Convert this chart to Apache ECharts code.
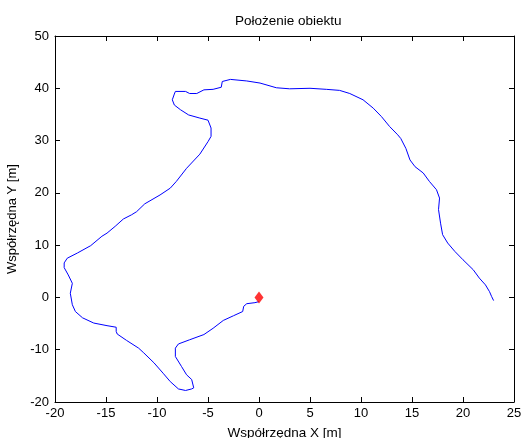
<!DOCTYPE html>
<html>
<head>
<meta charset="utf-8">
<script src="https://cdn.jsdelivr.net/npm/echarts@6/dist/echarts.min.js"></script>
<style>
html, body { margin: 0; padding: 0; background: #fff; }
#chart { width: 527px; height: 438px; }
</style>
</head>
<body>
<div id="chart"></div>
<script>
// trajektoria obiektu
var pathX = [0, -0.4, -1.2, -1.5, -1.6, -2.5, -3.5, -4.5, -5.4, -6.8, -7.9, -8.2, -8.2, -7.6, -7.1, -6.6, -6.4, -6.6, -7.2, -7.9,
  -8.7, -9.4, -10.3, -11.3, -11.8, -13, -13.9, -14, -14, -14.9, -16.2, -17.3, -18, -18.3, -18.5, -18.3, -18.7, -19.1, -19.1, -18.8,
  -17.8, -16.5, -15.4, -14.9, -14.1, -13.3, -12.5, -12, -11.2, -9.7, -8.7, -8.1, -7.1, -5.8, -5, -4.7, -4.7, -5, -5.8, -6.9,
  -7.7, -8.3, -8.5, -8.3, -8.2, -7.2, -6.8, -6.1, -5.4, -4.5, -3.7, -3.6, -2.8, -1.2, 0.1, 1.7, 3, 5, 6.6, 7.9,
  8.9, 10.2, 11.2, 12, 12.8, 13.6, 13.9, 14.4, 14.8, 15.3, 16.1, 16.7, 17.4, 17.7, 17.6, 17.8, 18, 18.5, 19.2, 20,
  21, 21.6, 22.2, 22.6, 22.8, 23];
var pathY = [-0.8, -1, -1.2, -1.7, -2.7, -3.5, -4.4, -5.9, -7.1, -8.1, -8.9, -9.7, -11.3, -13.2, -14.8, -15.7, -17.3, -17.5, -17.8, -17.5,
  -16.1, -14.5, -12.5, -10.6, -9.7, -8.2, -7, -6.5, -5.7, -5.4, -4.9, -3.9, -2.7, -1.4, 0.8, 2.7, 4.3, 5.7, 6.6, 7.5,
  8.5, 9.9, 11.7, 12.3, 13.6, 15, 15.8, 16.4, 17.9, 19.6, 20.9, 22.2, 24.7, 27.4, 29.8, 30.8, 32.4, 33.9, 34.3, 34.9,
  35.9, 36.8, 37.8, 38.9, 39.4, 39.4, 39, 39, 39.7, 39.8, 40.2, 41.3, 41.7, 41.4, 41, 40.1, 39.9, 40, 39.8, 39.6,
  39, 37.8, 36.2, 34.6, 32.7, 31.1, 30.4, 28.5, 26.3, 25, 23.8, 22.2, 20.6, 19, 16.8, 14.2, 12, 10.4, 8.8, 7.2,
  5.3, 3.7, 2.4, 1.1, 0.2, -0.6];
var startPoint = [0, 0];

var title = 'Położenie obiektu';
var xName = 'Współrzędna X [m]';
var yName = 'Współrzędna Y [m]';

var data = [];
for (var i = 0; i < pathX.length; i++) {
  data.push([pathX[i], pathY[i]]);
}

var font = 'Liberation Sans, Arial, sans-serif';
var axisBase = {
  type: 'value',
  axisLine: { show: true, onZero: false, lineStyle: { color: '#000', width: 1 } },
  axisTick: { show: true, inside: true, length: 5, lineStyle: { color: '#000' } },
  splitLine: { show: false },
  axisLabel: { color: '#000', fontFamily: font, fontSize: 13 }
};

var myChart = echarts.init(document.getElementById('chart'));
myChart.setOption({
  backgroundColor: '#fff',
  animation: false,
  title: {
    text: title,
    left: 230,
    top: 9,
    textStyle: { color: '#000', fontFamily: font, fontSize: 13.5, fontWeight: 'normal' }
  },
  grid: { left: 55, right: 13, top: 36, bottom: 36, outerBoundsMode: 'none', containLabel: false },
  xAxis: [
    Object.assign({}, axisBase, {
      min: -20, max: 25, interval: 5,
      position: 'bottom',
      name: xName, nameLocation: 'middle', nameGap: 24,
      nameTextStyle: { color: '#000', fontFamily: font, fontSize: 13.5 },
      axisLabel: { color: '#000', fontFamily: font, fontSize: 13, margin: 5 }
    }),
    Object.assign({}, axisBase, {
      min: -20, max: 25, interval: 5,
      position: 'top',
      axisLabel: { show: false }
    })
  ],
  yAxis: [
    Object.assign({}, axisBase, {
      min: -20, max: 50, interval: 10,
      position: 'left',
      name: yName, nameLocation: 'middle', nameGap: 30,
      nameTextStyle: { color: '#000', fontFamily: font, fontSize: 13 },
      axisLabel: { color: '#000', fontFamily: font, fontSize: 13, margin: 6 }
    }),
    Object.assign({}, axisBase, {
      min: -20, max: 50, interval: 10,
      position: 'right',
      axisLabel: { show: false }
    })
  ],
  series: [
    {
      type: 'line',
      data: data,
      showSymbol: false,
      smooth: false,
      lineStyle: { color: '#0000ff', width: 1 },
      itemStyle: { color: '#0000ff' }
    },
    {
      type: 'scatter',
      data: [startPoint],
      symbol: 'diamond',
      symbolSize: [9, 12],
      itemStyle: { color: '#ff0000' },
      z: 5
    }
  ]
});
</script>
</body>
</html>
